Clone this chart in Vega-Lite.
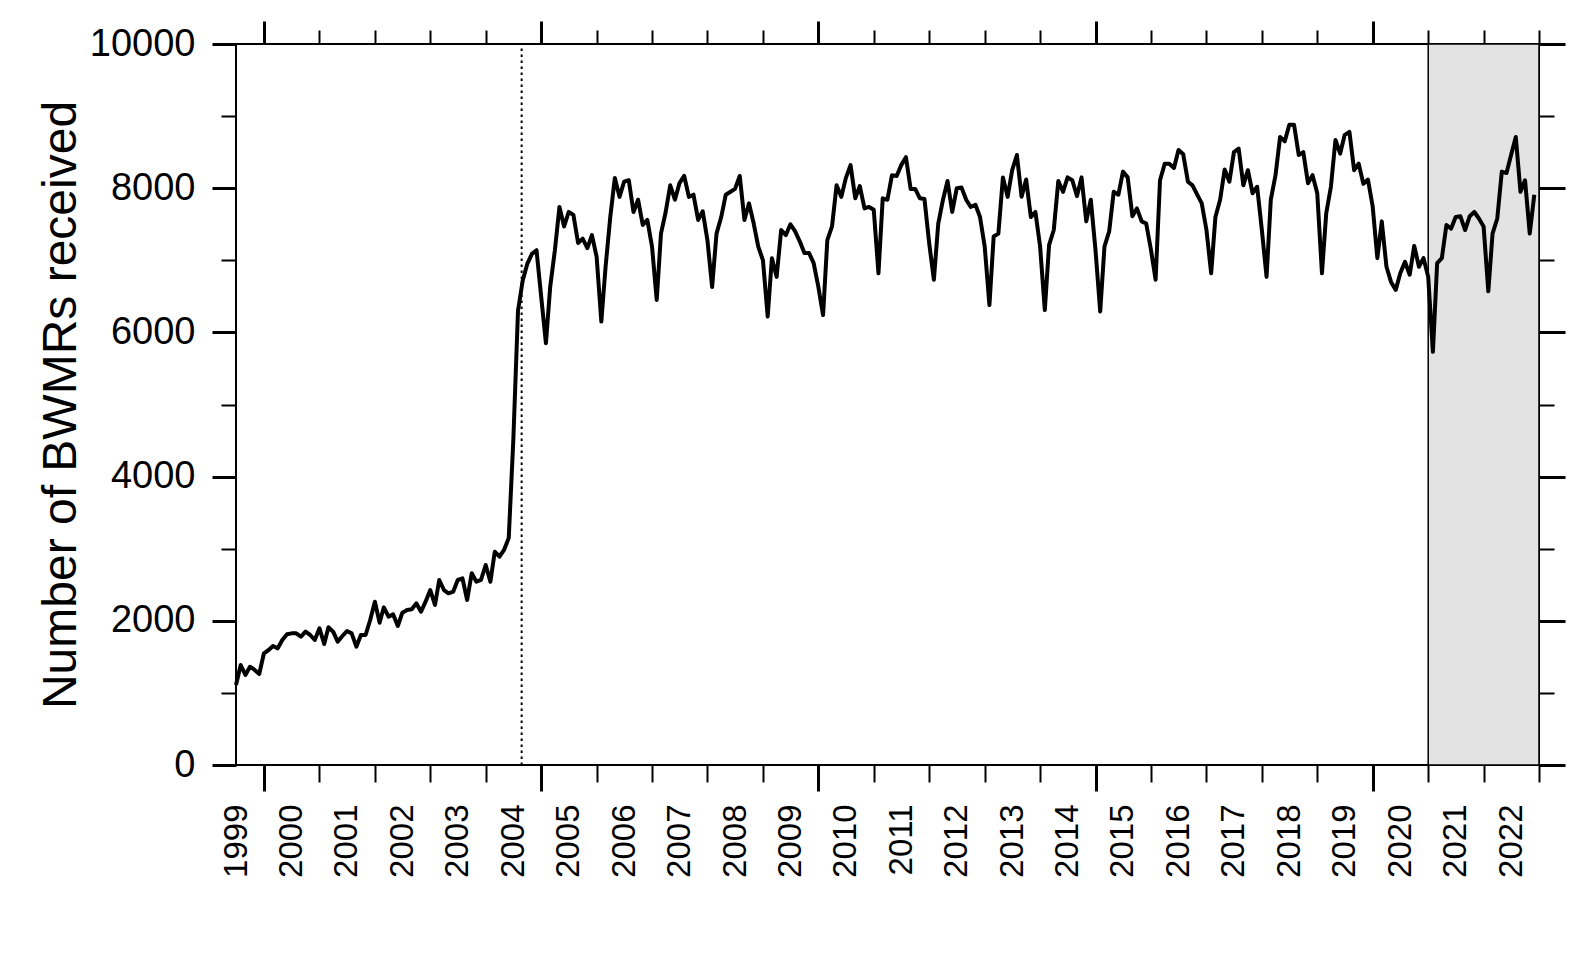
{
  "$schema": "https://vega.github.io/schema/vega-lite/v6.json",
  "width": 1303,
  "height": 721,
  "padding": {"left": 37, "top": 19, "right": 5, "bottom": 5},
  "background": "white",
  "config": {
    "font": "Liberation Sans",
    "view": {"stroke": "black", "strokeWidth": 2},
    "axis": {"domain": false, "grid": false, "tickColor": "black", "labelColor": "black", "titleColor": "black", "labelFont": "Liberation Sans", "titleFont": "Liberation Sans", "labelOverlap": false, "labelFlush": false}
  },
  "resolve": {"axis": {"x": "independent", "y": "independent"}},
  "layer": [
    {
      "data": {"values": [{"start": "2021-01-01", "end": "2023-01-01"}]},
      "mark": {"type": "rect", "fill": "#e3e3e3", "stroke": "black", "strokeWidth": 1.5},
      "encoding": {
        "x": {
          "field": "start", "type": "temporal",
          "scale": {"type": "utc", "nice": false, "domain": [{"year": 1999, "month": 7, "date": 1, "utc": true}, {"year": 2023, "month": 1, "date": 1, "utc": true}]},
          "axis": {
            "orient": "bottom", "labels": false, "title": null,
            "values": [
              {"year": 2000, "month": 1, "date": 1, "utc": true}, {"year": 2001, "month": 1, "date": 1, "utc": true}, {"year": 2002, "month": 1, "date": 1, "utc": true}, {"year": 2003, "month": 1, "date": 1, "utc": true},
              {"year": 2004, "month": 1, "date": 1, "utc": true}, {"year": 2005, "month": 1, "date": 1, "utc": true}, {"year": 2006, "month": 1, "date": 1, "utc": true}, {"year": 2007, "month": 1, "date": 1, "utc": true},
              {"year": 2008, "month": 1, "date": 1, "utc": true}, {"year": 2009, "month": 1, "date": 1, "utc": true}, {"year": 2010, "month": 1, "date": 1, "utc": true}, {"year": 2011, "month": 1, "date": 1, "utc": true},
              {"year": 2012, "month": 1, "date": 1, "utc": true}, {"year": 2013, "month": 1, "date": 1, "utc": true}, {"year": 2014, "month": 1, "date": 1, "utc": true}, {"year": 2015, "month": 1, "date": 1, "utc": true},
              {"year": 2016, "month": 1, "date": 1, "utc": true}, {"year": 2017, "month": 1, "date": 1, "utc": true}, {"year": 2018, "month": 1, "date": 1, "utc": true}, {"year": 2019, "month": 1, "date": 1, "utc": true},
              {"year": 2020, "month": 1, "date": 1, "utc": true}, {"year": 2021, "month": 1, "date": 1, "utc": true}, {"year": 2022, "month": 1, "date": 1, "utc": true}, {"year": 2023, "month": 1, "date": 1, "utc": true}
            ],
            "tickSize": {"condition": {"test": "utcyear(datum.value) % 5 === 0", "value": 26}, "value": 17},
            "tickWidth": {"condition": {"test": "utcyear(datum.value) % 5 === 0", "value": 3}, "value": 2}
          }
        },
        "x2": {"field": "end"},
        "y": {
          "datum": 0, "type": "quantitative",
          "scale": {"domain": [0, 10000], "nice": false},
          "axis": {
            "orient": "right", "labels": false, "title": null,
            "values": [0, 1000, 2000, 3000, 4000, 5000, 6000, 7000, 8000, 9000, 10000],
            "tickSize": {"condition": {"test": "datum.value % 2000 === 0", "value": 26}, "value": 15},
            "tickWidth": {"condition": {"test": "datum.value % 2000 === 0", "value": 3}, "value": 2}
          }
        },
        "y2": {"datum": 10000}
      }
    },
    {
      "data": {"values": [{"date": "2004-08-25"}]},
      "mark": {"type": "rule", "color": "black", "strokeWidth": 2, "strokeDash": [2.5, 3.5]},
      "encoding": {
        "x": {
          "field": "date", "type": "temporal",
          "scale": {"type": "utc", "nice": false, "domain": [{"year": 1999, "month": 7, "date": 1, "utc": true}, {"year": 2023, "month": 1, "date": 1, "utc": true}]},
          "axis": {
            "orient": "top", "labels": false, "title": null,
            "values": [
              {"year": 2000, "month": 1, "date": 1, "utc": true}, {"year": 2001, "month": 1, "date": 1, "utc": true}, {"year": 2002, "month": 1, "date": 1, "utc": true}, {"year": 2003, "month": 1, "date": 1, "utc": true},
              {"year": 2004, "month": 1, "date": 1, "utc": true}, {"year": 2005, "month": 1, "date": 1, "utc": true}, {"year": 2006, "month": 1, "date": 1, "utc": true}, {"year": 2007, "month": 1, "date": 1, "utc": true},
              {"year": 2008, "month": 1, "date": 1, "utc": true}, {"year": 2009, "month": 1, "date": 1, "utc": true}, {"year": 2010, "month": 1, "date": 1, "utc": true}, {"year": 2011, "month": 1, "date": 1, "utc": true},
              {"year": 2012, "month": 1, "date": 1, "utc": true}, {"year": 2013, "month": 1, "date": 1, "utc": true}, {"year": 2014, "month": 1, "date": 1, "utc": true}, {"year": 2015, "month": 1, "date": 1, "utc": true},
              {"year": 2016, "month": 1, "date": 1, "utc": true}, {"year": 2017, "month": 1, "date": 1, "utc": true}, {"year": 2018, "month": 1, "date": 1, "utc": true}, {"year": 2019, "month": 1, "date": 1, "utc": true},
              {"year": 2020, "month": 1, "date": 1, "utc": true}, {"year": 2021, "month": 1, "date": 1, "utc": true}, {"year": 2022, "month": 1, "date": 1, "utc": true}, {"year": 2023, "month": 1, "date": 1, "utc": true}
            ],
            "tickSize": {"condition": {"test": "utcyear(datum.value) % 5 === 0", "value": 23}, "value": 14},
            "tickWidth": {"condition": {"test": "utcyear(datum.value) % 5 === 0", "value": 3}, "value": 2}
          }
        },
        "y": {"datum": 0, "type": "quantitative", "scale": {"domain": [0, 10000], "nice": false}, "axis": null},
        "y2": {"datum": 10000}
      }
    },
    {
      "data": {"values": [
        {"date": "1999-07-01", "n": 1110}, {"date": "1999-08-01", "n": 1387}, {"date": "1999-09-01", "n": 1248}, {"date": "1999-10-01", "n": 1363}, {"date": "1999-11-01", "n": 1318}, {"date": "1999-12-01", "n": 1262},
        {"date": "2000-01-01", "n": 1549}, {"date": "2000-02-01", "n": 1595}, {"date": "2000-03-01", "n": 1650}, {"date": "2000-04-01", "n": 1618}, {"date": "2000-05-01", "n": 1734}, {"date": "2000-06-01", "n": 1813},
        {"date": "2000-07-01", "n": 1826}, {"date": "2000-08-01", "n": 1826}, {"date": "2000-09-01", "n": 1780}, {"date": "2000-10-01", "n": 1849}, {"date": "2000-11-01", "n": 1803}, {"date": "2000-12-01", "n": 1734},
        {"date": "2001-01-01", "n": 1896}, {"date": "2001-02-01", "n": 1678}, {"date": "2001-03-01", "n": 1910}, {"date": "2001-04-01", "n": 1849}, {"date": "2001-05-01", "n": 1711}, {"date": "2001-06-01", "n": 1789},
        {"date": "2001-07-01", "n": 1858}, {"date": "2001-08-01", "n": 1826}, {"date": "2001-09-01", "n": 1641}, {"date": "2001-10-01", "n": 1803}, {"date": "2001-11-01", "n": 1803}, {"date": "2001-12-01", "n": 2011},
        {"date": "2002-01-01", "n": 2265}, {"date": "2002-02-01", "n": 1974}, {"date": "2002-03-01", "n": 2187}, {"date": "2002-04-01", "n": 2057}, {"date": "2002-05-01", "n": 2090}, {"date": "2002-06-01", "n": 1928},
        {"date": "2002-07-01", "n": 2113}, {"date": "2002-08-01", "n": 2150}, {"date": "2002-09-01", "n": 2159}, {"date": "2002-10-01", "n": 2242}, {"date": "2002-11-01", "n": 2126}, {"date": "2002-12-01", "n": 2265},
        {"date": "2003-01-01", "n": 2427}, {"date": "2003-02-01", "n": 2219}, {"date": "2003-03-01", "n": 2566}, {"date": "2003-04-01", "n": 2427}, {"date": "2003-05-01", "n": 2381}, {"date": "2003-06-01", "n": 2404},
        {"date": "2003-07-01", "n": 2566}, {"date": "2003-08-01", "n": 2589}, {"date": "2003-09-01", "n": 2288}, {"date": "2003-10-01", "n": 2659}, {"date": "2003-11-01", "n": 2542}, {"date": "2003-12-01", "n": 2566},
        {"date": "2004-01-01", "n": 2774}, {"date": "2004-02-01", "n": 2542}, {"date": "2004-03-01", "n": 2958}, {"date": "2004-04-01", "n": 2889}, {"date": "2004-05-01", "n": 2982}, {"date": "2004-06-01", "n": 3150},
        {"date": "2004-07-01", "n": 4500}, {"date": "2004-08-01", "n": 6300}, {"date": "2004-09-01", "n": 6720}, {"date": "2004-10-01", "n": 6950}, {"date": "2004-11-01", "n": 7090}, {"date": "2004-12-01", "n": 7140},
        {"date": "2005-01-01", "n": 6490}, {"date": "2005-02-01", "n": 5850}, {"date": "2005-03-01", "n": 6630}, {"date": "2005-04-01", "n": 7140}, {"date": "2005-05-01", "n": 7740}, {"date": "2005-06-01", "n": 7470},
        {"date": "2005-07-01", "n": 7670}, {"date": "2005-08-01", "n": 7630}, {"date": "2005-09-01", "n": 7240}, {"date": "2005-10-01", "n": 7300}, {"date": "2005-11-01", "n": 7170}, {"date": "2005-12-01", "n": 7350},
        {"date": "2006-01-01", "n": 7050}, {"date": "2006-02-01", "n": 6150}, {"date": "2006-03-01", "n": 6910}, {"date": "2006-04-01", "n": 7600}, {"date": "2006-05-01", "n": 8140}, {"date": "2006-06-01", "n": 7880},
        {"date": "2006-07-01", "n": 8090}, {"date": "2006-08-01", "n": 8110}, {"date": "2006-09-01", "n": 7670}, {"date": "2006-10-01", "n": 7840}, {"date": "2006-11-01", "n": 7490}, {"date": "2006-12-01", "n": 7560},
        {"date": "2007-01-01", "n": 7190}, {"date": "2007-02-01", "n": 6450}, {"date": "2007-03-01", "n": 7370}, {"date": "2007-04-01", "n": 7670}, {"date": "2007-05-01", "n": 8040}, {"date": "2007-06-01", "n": 7840},
        {"date": "2007-07-01", "n": 8070}, {"date": "2007-08-01", "n": 8170}, {"date": "2007-09-01", "n": 7880}, {"date": "2007-10-01", "n": 7910}, {"date": "2007-11-01", "n": 7560}, {"date": "2007-12-01", "n": 7680},
        {"date": "2008-01-01", "n": 7280}, {"date": "2008-02-01", "n": 6630}, {"date": "2008-03-01", "n": 7370}, {"date": "2008-04-01", "n": 7600}, {"date": "2008-05-01", "n": 7910}, {"date": "2008-06-01", "n": 7950},
        {"date": "2008-07-01", "n": 7990}, {"date": "2008-08-01", "n": 8170}, {"date": "2008-09-01", "n": 7560}, {"date": "2008-10-01", "n": 7790}, {"date": "2008-11-01", "n": 7510}, {"date": "2008-12-01", "n": 7190},
        {"date": "2009-01-01", "n": 7000}, {"date": "2009-02-01", "n": 6220}, {"date": "2009-03-01", "n": 7030}, {"date": "2009-04-01", "n": 6770}, {"date": "2009-05-01", "n": 7420}, {"date": "2009-06-01", "n": 7350},
        {"date": "2009-07-01", "n": 7500}, {"date": "2009-08-01", "n": 7400}, {"date": "2009-09-01", "n": 7260}, {"date": "2009-10-01", "n": 7100}, {"date": "2009-11-01", "n": 7100}, {"date": "2009-12-01", "n": 6960},
        {"date": "2010-01-01", "n": 6630}, {"date": "2010-02-01", "n": 6240}, {"date": "2010-03-01", "n": 7280}, {"date": "2010-04-01", "n": 7470}, {"date": "2010-05-01", "n": 8040}, {"date": "2010-06-01", "n": 7880},
        {"date": "2010-07-01", "n": 8140}, {"date": "2010-08-01", "n": 8320}, {"date": "2010-09-01", "n": 7860}, {"date": "2010-10-01", "n": 8030}, {"date": "2010-11-01", "n": 7720}, {"date": "2010-12-01", "n": 7740},
        {"date": "2011-01-01", "n": 7700}, {"date": "2011-02-01", "n": 6820}, {"date": "2011-03-01", "n": 7860}, {"date": "2011-04-01", "n": 7840}, {"date": "2011-05-01", "n": 8180}, {"date": "2011-06-01", "n": 8170},
        {"date": "2011-07-01", "n": 8320}, {"date": "2011-08-01", "n": 8430}, {"date": "2011-09-01", "n": 7990}, {"date": "2011-10-01", "n": 7990}, {"date": "2011-11-01", "n": 7860}, {"date": "2011-12-01", "n": 7850},
        {"date": "2012-01-01", "n": 7240}, {"date": "2012-02-01", "n": 6730}, {"date": "2012-03-01", "n": 7510}, {"date": "2012-04-01", "n": 7840}, {"date": "2012-05-01", "n": 8100}, {"date": "2012-06-01", "n": 7670},
        {"date": "2012-07-01", "n": 8000}, {"date": "2012-08-01", "n": 8010}, {"date": "2012-09-01", "n": 7840}, {"date": "2012-10-01", "n": 7740}, {"date": "2012-11-01", "n": 7770}, {"date": "2012-12-01", "n": 7600},
        {"date": "2013-01-01", "n": 7190}, {"date": "2013-02-01", "n": 6380}, {"date": "2013-03-01", "n": 7330}, {"date": "2013-04-01", "n": 7370}, {"date": "2013-05-01", "n": 8150}, {"date": "2013-06-01", "n": 7880},
        {"date": "2013-07-01", "n": 8250}, {"date": "2013-08-01", "n": 8460}, {"date": "2013-09-01", "n": 7880}, {"date": "2013-10-01", "n": 8120}, {"date": "2013-11-01", "n": 7600}, {"date": "2013-12-01", "n": 7670},
        {"date": "2014-01-01", "n": 7190}, {"date": "2014-02-01", "n": 6310}, {"date": "2014-03-01", "n": 7210}, {"date": "2014-04-01", "n": 7420}, {"date": "2014-05-01", "n": 8100}, {"date": "2014-06-01", "n": 7950},
        {"date": "2014-07-01", "n": 8150}, {"date": "2014-08-01", "n": 8110}, {"date": "2014-09-01", "n": 7890}, {"date": "2014-10-01", "n": 8150}, {"date": "2014-11-01", "n": 7540}, {"date": "2014-12-01", "n": 7840},
        {"date": "2015-01-01", "n": 7140}, {"date": "2015-02-01", "n": 6290}, {"date": "2015-03-01", "n": 7190}, {"date": "2015-04-01", "n": 7400}, {"date": "2015-05-01", "n": 7950}, {"date": "2015-06-01", "n": 7910},
        {"date": "2015-07-01", "n": 8230}, {"date": "2015-08-01", "n": 8150}, {"date": "2015-09-01", "n": 7610}, {"date": "2015-10-01", "n": 7720}, {"date": "2015-11-01", "n": 7540}, {"date": "2015-12-01", "n": 7510},
        {"date": "2016-01-01", "n": 7150}, {"date": "2016-02-01", "n": 6730}, {"date": "2016-03-01", "n": 8110}, {"date": "2016-04-01", "n": 8340}, {"date": "2016-05-01", "n": 8340}, {"date": "2016-06-01", "n": 8280},
        {"date": "2016-07-01", "n": 8530}, {"date": "2016-08-01", "n": 8470}, {"date": "2016-09-01", "n": 8090}, {"date": "2016-10-01", "n": 8040}, {"date": "2016-11-01", "n": 7910}, {"date": "2016-12-01", "n": 7790},
        {"date": "2017-01-01", "n": 7420}, {"date": "2017-02-01", "n": 6820}, {"date": "2017-03-01", "n": 7600}, {"date": "2017-04-01", "n": 7840}, {"date": "2017-05-01", "n": 8260}, {"date": "2017-06-01", "n": 8090},
        {"date": "2017-07-01", "n": 8500}, {"date": "2017-08-01", "n": 8550}, {"date": "2017-09-01", "n": 8040}, {"date": "2017-10-01", "n": 8250}, {"date": "2017-11-01", "n": 7930}, {"date": "2017-12-01", "n": 8020},
        {"date": "2018-01-01", "n": 7420}, {"date": "2018-02-01", "n": 6770}, {"date": "2018-03-01", "n": 7840}, {"date": "2018-04-01", "n": 8180}, {"date": "2018-05-01", "n": 8710}, {"date": "2018-06-01", "n": 8650},
        {"date": "2018-07-01", "n": 8880}, {"date": "2018-08-01", "n": 8880}, {"date": "2018-09-01", "n": 8460}, {"date": "2018-10-01", "n": 8500}, {"date": "2018-11-01", "n": 8070}, {"date": "2018-12-01", "n": 8180},
        {"date": "2019-01-01", "n": 7930}, {"date": "2019-02-01", "n": 6820}, {"date": "2019-03-01", "n": 7650}, {"date": "2019-04-01", "n": 8020}, {"date": "2019-05-01", "n": 8670}, {"date": "2019-06-01", "n": 8480},
        {"date": "2019-07-01", "n": 8740}, {"date": "2019-08-01", "n": 8780}, {"date": "2019-09-01", "n": 8250}, {"date": "2019-10-01", "n": 8340}, {"date": "2019-11-01", "n": 8060}, {"date": "2019-12-01", "n": 8120},
        {"date": "2020-01-01", "n": 7750}, {"date": "2020-02-01", "n": 7030}, {"date": "2020-03-01", "n": 7540}, {"date": "2020-04-01", "n": 6910}, {"date": "2020-05-01", "n": 6700}, {"date": "2020-06-01", "n": 6590},
        {"date": "2020-07-01", "n": 6820}, {"date": "2020-08-01", "n": 6980}, {"date": "2020-09-01", "n": 6800}, {"date": "2020-10-01", "n": 7200}, {"date": "2020-11-01", "n": 6910}, {"date": "2020-12-01", "n": 7030},
        {"date": "2021-01-01", "n": 6770}, {"date": "2021-02-01", "n": 5730}, {"date": "2021-03-01", "n": 6960}, {"date": "2021-04-01", "n": 7030}, {"date": "2021-05-01", "n": 7490}, {"date": "2021-06-01", "n": 7440},
        {"date": "2021-07-01", "n": 7600}, {"date": "2021-08-01", "n": 7610}, {"date": "2021-09-01", "n": 7420}, {"date": "2021-10-01", "n": 7610}, {"date": "2021-11-01", "n": 7670}, {"date": "2021-12-01", "n": 7580},
        {"date": "2022-01-01", "n": 7470}, {"date": "2022-02-01", "n": 6570}, {"date": "2022-03-01", "n": 7370}, {"date": "2022-04-01", "n": 7580}, {"date": "2022-05-01", "n": 8230}, {"date": "2022-06-01", "n": 8210},
        {"date": "2022-07-01", "n": 8460}, {"date": "2022-08-01", "n": 8710}, {"date": "2022-09-01", "n": 7950}, {"date": "2022-10-01", "n": 8110}, {"date": "2022-11-01", "n": 7370}, {"date": "2022-12-01", "n": 7910}
      ]},
      "mark": {"type": "line", "color": "black", "strokeWidth": 4, "strokeJoin": "round"},
      "encoding": {
        "x": {
          "field": "date", "type": "temporal",
          "scale": {"type": "utc", "nice": false, "domain": [{"year": 1999, "month": 7, "date": 1, "utc": true}, {"year": 2023, "month": 1, "date": 1, "utc": true}]},
          "axis": {
            "orient": "bottom", "ticks": false, "title": null, "format": "%Y",
            "labelAngle": 270, "labelAlign": "right", "labelBaseline": "middle", "labelFontSize": 33, "labelPadding": 39,
            "values": [
              {"year": 1999, "month": 7, "date": 1, "utc": true}, {"year": 2000, "month": 7, "date": 1, "utc": true}, {"year": 2001, "month": 7, "date": 1, "utc": true}, {"year": 2002, "month": 7, "date": 1, "utc": true},
              {"year": 2003, "month": 7, "date": 1, "utc": true}, {"year": 2004, "month": 7, "date": 1, "utc": true}, {"year": 2005, "month": 7, "date": 1, "utc": true}, {"year": 2006, "month": 7, "date": 1, "utc": true},
              {"year": 2007, "month": 7, "date": 1, "utc": true}, {"year": 2008, "month": 7, "date": 1, "utc": true}, {"year": 2009, "month": 7, "date": 1, "utc": true}, {"year": 2010, "month": 7, "date": 1, "utc": true},
              {"year": 2011, "month": 7, "date": 1, "utc": true}, {"year": 2012, "month": 7, "date": 1, "utc": true}, {"year": 2013, "month": 7, "date": 1, "utc": true}, {"year": 2014, "month": 7, "date": 1, "utc": true},
              {"year": 2015, "month": 7, "date": 1, "utc": true}, {"year": 2016, "month": 7, "date": 1, "utc": true}, {"year": 2017, "month": 7, "date": 1, "utc": true}, {"year": 2018, "month": 7, "date": 1, "utc": true},
              {"year": 2019, "month": 7, "date": 1, "utc": true}, {"year": 2020, "month": 7, "date": 1, "utc": true}, {"year": 2021, "month": 7, "date": 1, "utc": true}, {"year": 2022, "month": 7, "date": 1, "utc": true}
            ]
          }
        },
        "y": {
          "field": "n", "type": "quantitative",
          "scale": {"domain": [0, 10000], "nice": false},
          "axis": {
            "orient": "left", "format": "d",
            "values": [0, 1000, 2000, 3000, 4000, 5000, 6000, 7000, 8000, 9000, 10000],
            "labelExpr": "datum.value % 2000 === 0 ? datum.label : ''",
            "labelFontSize": 38, "labelPadding": 17,
            "tickSize": {"condition": {"test": "datum.value % 2000 === 0", "value": 24}, "value": 15},
            "tickWidth": {"condition": {"test": "datum.value % 2000 === 0", "value": 3}, "value": 2},
            "title": "Number of BWMRs received", "titleFontSize": 48, "titleFontWeight": "normal", "titlePadding": 4
          }
        }
      }
    }
  ]
}
